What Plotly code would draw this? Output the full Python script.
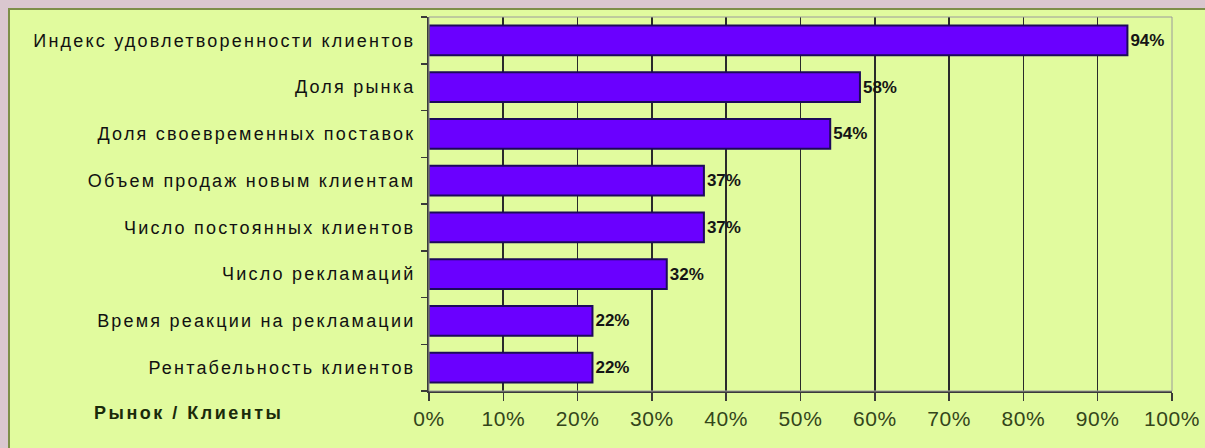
import plotly.graph_objects as go

categories = [
    "Индекс удовлетворенности клиентов",
    "Доля рынка",
    "Доля своевременных поставок",
    "Объем продаж новым клиентам",
    "Число постоянных клиентов",
    "Число рекламаций",
    "Время реакции на рекламации",
    "Рентабельность клиентов",
]
values = [94, 58, 54, 37, 37, 32, 22, 22]
tick_values = [0, 10, 20, 30, 40, 50, 60, 70, 80, 90, 100]
tick_labels = [f"{v}%" for v in tick_values]
axis_title = "Рынок / Клиенты"

W, H = 1205, 448
L, R, T, B = 429, 1172, 17, 391
pw, ph = R - L, B - T

def px(x):
    return (x - L) / pw

def py(y):
    return (B - y) / ph

def spaced(s, sp):
    return f'<span style="letter-spacing:{sp}px">{s}</span>'

fig = go.Figure()
fig.add_trace(go.Bar(
    y=categories,
    x=values,
    orientation="h",
    marker=dict(color="#6a00ff", line=dict(color="#1c0a5a", width=2)),
    text=[f"{v}%" for v in values],
    textposition="outside",
    textfont=dict(family="Liberation Sans, Arial", size=17, color="#151515", weight="bold"),
    cliponaxis=False,
    hoverinfo="skip",
))

fig.update_layout(
    template="none",
    width=W, height=H,
    margin=dict(l=L, r=W - R, t=T, b=H - B, pad=0),
    paper_bgcolor="#dac7cf",
    plot_bgcolor="#c6c6c6",
    bargap=0.36,
    showlegend=False,
    font=dict(family="Liberation Sans, Arial", color="#1a1a1a"),
    shapes=[
        dict(type="rect", xref="paper", yref="paper",
             x0=px(9), x1=px(1215), y0=py(9), y1=py(460),
             fillcolor="#e1fb9e", line=dict(color="#7d8f48", width=2), layer="below"),
        dict(type="rect", xref="paper", yref="paper",
             x0=0, x1=1, y0=0, y1=1,
             line=dict(color="#9a9a9a", width=1), layer="above"),
    ],
    annotations=[
        dict(text="<b>" + spaced(axis_title, 2.5) + "</b>", xref="paper", yref="paper",
             x=px(92), y=py(413), xanchor="left", yanchor="middle",
             showarrow=False, font=dict(size=18, color="#1a2a0a")),
    ],
)

fig.update_xaxes(
    automargin=False,
    range=[0, 100],
    tickvals=tick_values, ticktext=[spaced(t, 0.6) for t in tick_labels],
    showgrid=True, gridcolor="#2a2a2a", gridwidth=1.6,
    showline=True, linecolor="#3a3a3a", linewidth=2,
    ticks="outside", ticklen=8, tickcolor="#3a3a3a", tickwidth=1.5,
    tickfont=dict(size=21, color="#33451a"),
    zeroline=False, fixedrange=True,
)
fig.update_yaxes(
    automargin=False,
    autorange="reversed",
    type="category",
    tickson="boundaries",
    tickvals=categories,
    ticktext=[spaced(c, 2.2) for c in categories],
    showline=True, linecolor="#3a3a3a", linewidth=2,
    ticks="outside", ticklen=6, tickcolor="#3a3a3a", tickwidth=1.5,
    tickfont=dict(size=18, color="#111111"),
    ticklabelstandoff=8,
    showgrid=False, zeroline=False, fixedrange=True,
)

fig.write_html(
    "out.html",
    config={"displayModeBar": False, "staticPlot": True},
    post_script="document.body.style.margin='0';document.body.style.overflow='hidden';",
)
